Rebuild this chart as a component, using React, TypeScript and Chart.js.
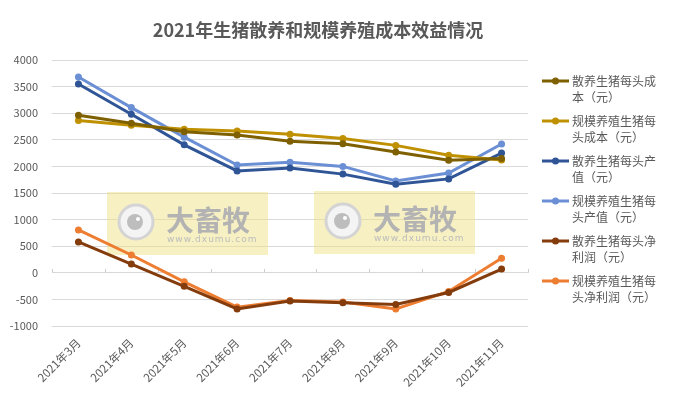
import React, { useEffect, useRef } from "react";
import { Chart, registerables } from "chart.js";

Chart.register(...registerables);

const categories = ["2021年3月", "2021年4月", "2021年5月", "2021年6月", "2021年7月", "2021年8月", "2021年9月", "2021年10月", "2021年11月"];
const title = "2021年生猪散养和规模养殖成本效益情况";

const sanCost = [2960, 2810, 2650, 2590, 2475, 2425, 2270, 2115, 2150];
const guiCost = [2865, 2775, 2700, 2665, 2605, 2525, 2395, 2210, 2120];
const sanValue = [3550, 2980, 2405, 1915, 1970, 1855, 1665, 1765, 2250];
const guiValue = [3680, 3105, 2550, 2025, 2080, 2000, 1725, 1875, 2420];
const sanProfit = [580, 165, -255, -680, -530, -565, -595, -370, 70];
const guiProfit = [805, 335, -170, -645, -520, -550, -680, -350, 275];

const seriesNames = [
  "散养生猪每头成本（元）",
  "规模养殖生猪每头成本（元）",
  "散养生猪每头产值（元）",
  "规模养殖生猪每头产值（元）",
  "散养生猪每头净利润（元）",
  "规模养殖生猪每头净利润（元）",
];
const seriesColors = ["#7F6000", "#BF9000", "#2F5597", "#6B8FD4", "#843C0C", "#ED7D31"];
const seriesData = [sanCost, guiCost, sanValue, guiValue, sanProfit, guiProfit];

const FONT = '"Noto Sans CJK SC", "Liberation Sans", sans-serif';
const TEXT = "#595959";

const decorPlugin = {
  id: "decor",
  beforeDatasetsDraw(chart: any) {
    const ctx = chart.ctx;
    const ys = chart.scales.y;
    const area = chart.chartArea;
    const y0 = ys.getPixelForValue(0);
    ctx.save();
    ctx.strokeStyle = "#d0d0d0";
    ctx.lineWidth = 1;
    const n = categories.length;
    const step = (area.right - area.left) / n;
    for (let i = 0; i <= n; i++) {
      const x = Math.round(area.left + i * step) + 0.5;
      ctx.beginPath();
      ctx.moveTo(x, y0 - 4);
      ctx.lineTo(x, y0);
      ctx.stroke();
    }
    const boxes = [
      [107, 192],
      [314, 191],
    ];
    for (const [bx, by] of boxes) {
      const w = 161, h = 63;
      ctx.fillStyle = "rgba(240,226,135,0.5)";
      ctx.fillRect(bx, by, w, h);
      const cx = bx + 29, cy = by + 30;
      ctx.beginPath();
      ctx.arc(cx, cy, 17, 0, Math.PI * 2);
      ctx.fillStyle = "#f4f4f4";
      ctx.fill();
      ctx.lineWidth = 3;
      ctx.strokeStyle = "#d4d4d4";
      ctx.stroke();
      ctx.beginPath();
      ctx.arc(cx - 1, cy, 8, 0, Math.PI * 2);
      ctx.fillStyle = "#bdbdbd";
      ctx.fill();
      ctx.beginPath();
      ctx.arc(cx + 2, cy - 3, 2, 0, Math.PI * 2);
      ctx.fillStyle = "#ffffff";
      ctx.fill();
      ctx.fillStyle = "#b3b3b3";
      ctx.font = `bold 28px ${FONT}`;
      ctx.textAlign = "left";
      ctx.textBaseline = "alphabetic";
      ctx.fillText("大畜牧", bx + 59, by + 39);
      ctx.font = `9px "DejaVu Sans", sans-serif`;
      ctx.fillStyle = "#bdbdbd";
      (ctx as any).letterSpacing = "1px";
      ctx.fillText("www.dxumu.com", bx + 60, by + 50);
      (ctx as any).letterSpacing = "0px";
    }
    ctx.restore();
  },
  afterDraw(chart: any) {
    const ctx = chart.ctx;
    ctx.save();
    ctx.fillStyle = TEXT;
    ctx.font = `bold 18px ${FONT}`;
    ctx.textAlign = "center";
    ctx.textBaseline = "middle";
    ctx.fillText(title, 318, 30);
    chart.data.datasets.forEach((ds: any, i: number) => {
      const y = 81 + i * 40;
      ctx.strokeStyle = ds.borderColor;
      ctx.lineWidth = 3;
      ctx.beginPath();
      ctx.moveTo(542, y);
      ctx.lineTo(569, y);
      ctx.stroke();
      ctx.beginPath();
      ctx.arc(555.5, y, 3.5, 0, Math.PI * 2);
      ctx.fillStyle = ds.borderColor;
      ctx.fill();
      ctx.fillStyle = TEXT;
      ctx.font = `12px ${FONT}`;
      ctx.textAlign = "left";
      ctx.textBaseline = "middle";
      const label: string = ds.label;
      ctx.fillText(label.slice(0, 7), 572, y);
      ctx.fillText(label.slice(7), 572, y + 16);
    });
    ctx.restore();
  },
};

export default function App() {
  const ref = useRef<HTMLCanvasElement>(null);
  useEffect(() => {
    if (!ref.current) return;
    const chart = new Chart(ref.current, {
      type: "line",
      data: {
        labels: categories,
        datasets: seriesNames.map((name, i) => ({
          label: name,
          data: seriesData[i],
          borderColor: seriesColors[i],
          backgroundColor: seriesColors[i],
          borderWidth: 3,
          pointRadius: 3.5,
          pointBorderWidth: 0,
          pointBackgroundColor: seriesColors[i],
          tension: 0,
          fill: false,
        })),
      },
      options: {
        animation: false,
        responsive: false,
        maintainAspectRatio: false,
        layout: { padding: { top: 60, right: 149, bottom: 0, left: 0 } },
        plugins: {
          legend: { display: false },
          title: { display: false },
          tooltip: { enabled: false },
        },
        scales: {
          x: {
            type: "category",
            offset: true,
            grid: { display: false, drawTicks: false },
            border: { display: false },
            ticks: {
              autoSkip: false,
              minRotation: 45,
              maxRotation: 45,
              padding: 10,
              color: TEXT,
              font: { family: FONT, size: 11.5 },
            },
            afterFit(scale: any) {
              scale.height = 69;
            },
          },
          y: {
            min: -1000,
            max: 4000,
            grid: { color: "#d9d9d9", drawTicks: false, lineWidth: 1 },
            border: { display: false },
            ticks: {
              stepSize: 500,
              padding: 14,
              color: TEXT,
              font: { family: FONT, size: 11 },
              callback: (v: any) => String(v),
            },
            afterFit(scale: any) {
              scale.width = 52;
            },
          },
        },
      },
      plugins: [decorPlugin],
    });
    return () => chart.destroy();
  }, []);
  return (
    <div style={{ position: "fixed", left: 0, top: 0, width: 677, height: 395, background: "#fff" }}>
      <canvas ref={ref} width={677} height={395} style={{ width: 677, height: 395 }} />
    </div>
  );
}
